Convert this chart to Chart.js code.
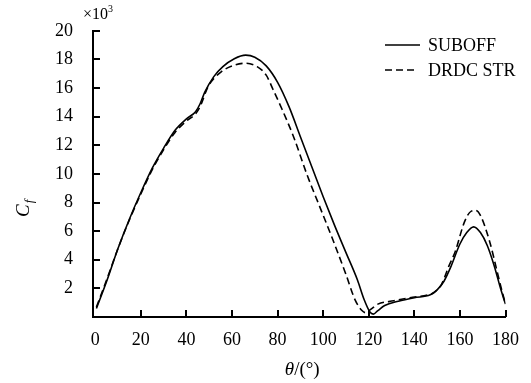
<!DOCTYPE html>
<html lang="en">
<head>
    <meta charset="UTF-8">
    <title>Cf vs theta</title>
    <style>
        body {
            margin: 0;
            padding: 0;
            background-color: #ffffff;
        }

        .chart-box {
            width: 531px;
            height: 383px;
        }
    </style>
    <script src="https://cdn.jsdelivr.net/npm/chart.js"></script>
</head>
<body>
    <div class="chart-box">
        <canvas id="cfChart" width="531" height="383"></canvas>
    </div>

    <script>
        // angle (deg) and Cf (x10^3)
        const suboffTheta = [0.5, 5, 10, 15, 20, 25, 30, 35, 40, 44, 46, 48, 52, 56, 61, 66, 70, 75, 80, 85, 90, 95, 100, 105, 110, 115, 118, 120.5, 122, 124, 127, 133, 140, 147, 150, 153, 156, 160, 163, 166, 169, 172, 175, 178, 180];
        const suboffCf    = [0.6, 2.5, 4.8, 6.85, 8.7, 10.4, 11.8, 13.05, 13.85, 14.35, 14.9, 15.7, 16.8, 17.5, 18.05, 18.3, 18.15, 17.55, 16.4, 14.7, 12.6, 10.5, 8.4, 6.4, 4.5, 2.6, 1.2, 0.35, 0.2, 0.45, 0.8, 1.1, 1.35, 1.55, 1.9, 2.5, 3.5, 5.1, 5.9, 6.3, 5.9, 5.0, 3.6, 1.9, 0.9];

        const drdcTheta = [0.5, 5, 10, 15, 20, 25, 30, 35, 40, 44, 46, 49.5, 55, 61, 66, 71, 75, 78, 82, 87, 93, 98, 104, 110, 114, 117, 118.6, 121, 124, 131, 138, 146, 149, 152, 155, 158, 162, 165, 167, 169, 173, 176, 178, 180];
        const drdcCf    = [0.7, 2.6, 4.8, 6.8, 8.6, 10.3, 11.7, 12.9, 13.7, 14.2, 14.7, 16.1, 17.1, 17.6, 17.73, 17.5, 16.9, 15.9, 14.5, 12.6, 9.9, 7.9, 5.5, 2.97, 1.2, 0.45, 0.3, 0.55, 0.9, 1.13, 1.35, 1.55, 1.75, 2.3, 3.5, 4.6, 6.65, 7.4, 7.45, 7.1, 5.3, 3.4, 2.1, 0.9];

        const xTicks = [0, 20, 40, 60, 80, 100, 120, 140, 160, 180];
        const yTicks = [2, 4, 6, 8, 10, 12, 14, 16, 18, 20];

        const serif = 'Liberation Serif, DejaVu Serif, serif';

        function toPoints(xs, ys) {
            return xs.map((v, i) => ({ x: v, y: ys[i] }));
        }

        // ticks inside the axes, legend, axis titles
        const decor = {
            id: 'decor',
            afterDraw(chart) {
                const ctx = chart.ctx;
                const a = chart.chartArea;
                const xs = chart.scales.x;
                const ys = chart.scales.y;
                ctx.save();
                ctx.strokeStyle = '#000';
                ctx.fillStyle = '#000';
                ctx.lineWidth = 2;
                ctx.beginPath();
                xTicks.forEach(v => {
                    if (v <= 0) return;
                    const px = Math.round(xs.getPixelForValue(v));
                    ctx.moveTo(px, a.bottom);
                    ctx.lineTo(px, a.bottom - 7);
                });
                yTicks.forEach(v => {
                    const py = Math.round(ys.getPixelForValue(v));
                    ctx.moveTo(a.left, py);
                    ctx.lineTo(a.left + 7, py);
                });
                ctx.stroke();

                // legend
                ctx.lineWidth = 1.5;
                ctx.textBaseline = 'alphabetic';
                ctx.textAlign = 'left';
                ctx.font = '18px ' + serif;
                chart.data.datasets.forEach((ds, i) => {
                    const ly = 45 + i * 25;
                    ctx.setLineDash(ds.borderDash || []);
                    ctx.beginPath();
                    ctx.moveTo(385, ly);
                    ctx.lineTo(ds.borderDash ? 414 : 420, ly);
                    ctx.stroke();
                    ctx.setLineDash([]);
                    ctx.fillText(ds.label, 428, ly + 6);
                });

                // x title: theta/(deg)
                ctx.font = 'italic 19px ' + serif;
                const w1 = ctx.measureText('θ').width;
                ctx.font = '19px ' + serif;
                const w2 = ctx.measureText('/(°)').width;
                const cx = (a.left + a.right) / 2 + 3;
                let tx = cx - (w1 + w2) / 2;
                ctx.font = 'italic 19px ' + serif;
                ctx.fillText('θ', tx, 375);
                ctx.font = '19px ' + serif;
                ctx.fillText('/(°)', tx + w1, 375);

                // y title: C_f, rotated
                ctx.save();
                ctx.translate(29, 217);
                ctx.rotate(-Math.PI / 2);
                ctx.font = 'italic 19px ' + serif;
                ctx.fillText('C', 0, 0);
                const cw = ctx.measureText('C').width;
                ctx.font = 'italic 13px ' + serif;
                ctx.fillText('f', cw + 1, 4);
                ctx.restore();

                // multiplier
                ctx.font = '16px ' + serif;
                ctx.fillText('×10', 83, 19);
                const mw = ctx.measureText('×10').width;
                ctx.font = '10px ' + serif;
                ctx.fillText('3', 83 + mw, 12);
                ctx.restore();
            }
        };

        window.onload = function() {
            const ctx = document.getElementById('cfChart').getContext('2d');
            const cfChart = new Chart(ctx, {
                type: 'line',
                data: {
                    datasets: [{
                        label: 'SUBOFF',
                        data: toPoints(suboffTheta, suboffCf),
                        borderColor: '#000',
                        borderWidth: 1.6,
                        pointRadius: 0,
                        cubicInterpolationMode: 'monotone',
                        fill: false
                    }, {
                        label: 'DRDC STR',
                        data: toPoints(drdcTheta, drdcCf),
                        borderColor: '#000',
                        borderWidth: 1.6,
                        borderDash: [7, 4],
                        pointRadius: 0,
                        cubicInterpolationMode: 'monotone',
                        fill: false
                    }]
                },
                options: {
                    responsive: false,
                    animation: false,
                    layout: {
                        padding: { top: 25, right: 21, left: 0, bottom: 0 }
                    },
                    plugins: {
                        legend: { display: false },
                        tooltip: { enabled: false }
                    },
                    scales: {
                        x: {
                            type: 'linear',
                            min: -1,
                            max: 180,
                            afterFit: s => { s.height = 66; },
                            afterBuildTicks: s => { s.ticks = xTicks.map(v => ({ value: v })); },
                            grid: { display: false, drawTicks: false },
                            border: { display: true, color: '#000', width: 2 },
                            ticks: {
                                color: '#000',
                                padding: 12,
                                maxRotation: 0,
                                font: { family: serif, size: 18 }
                            }
                        },
                        y: {
                            min: 0,
                            max: 20,
                            afterFit: s => { s.width = 93; },
                            afterBuildTicks: s => { s.ticks = yTicks.map(v => ({ value: v })); },
                            grid: { display: false, drawTicks: false },
                            border: { display: true, color: '#000', width: 2 },
                            ticks: {
                                color: '#000',
                                padding: 20,
                                font: { family: serif, size: 18 }
                            }
                        }
                    }
                },
                plugins: [decor]
            });
        };
    </script>
</body>
</html>
